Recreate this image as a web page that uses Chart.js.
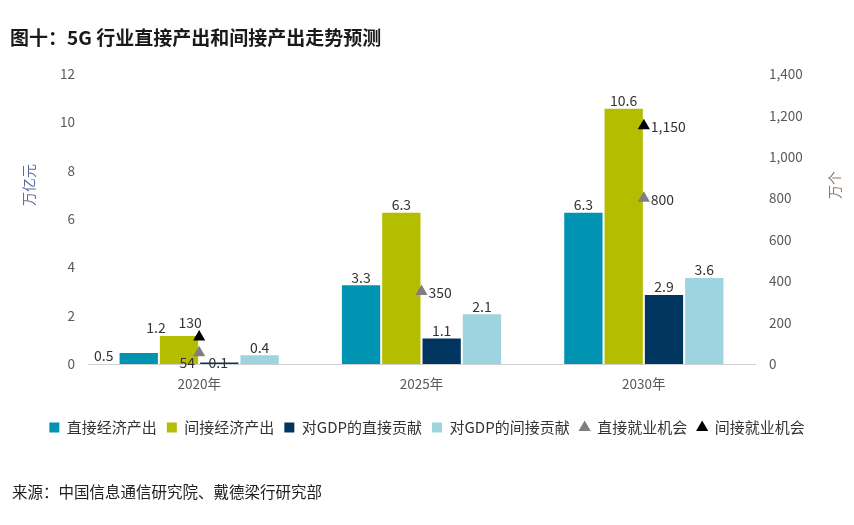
<!DOCTYPE html>
<html>
<head>
<meta charset="utf-8">
<script src="https://cdn.jsdelivr.net/npm/chart.js@4"></script>
<style>
  body { margin: 0; background: #fff; font-family: "Noto Sans CJK SC", sans-serif; }
  #wrap { position: relative; width: 854px; height: 525px; }
  #title { position: absolute; left: 10px; top: 23px; font-size: 19px; font-weight: bold; color: #1a1a1a; }
  #source { position: absolute; left: 12px; top: 480px; font-size: 15.5px; color: #222; }
  canvas { position: absolute; left: 0; top: 0; }
</style>
</head>
<body>
<div id="wrap">
  <canvas id="myChart" width="854" height="525"></canvas>
  <div id="title">图十：5G 行业直接产出和间接产出走势预测</div>
  <div id="source">来源：中国信息通信研究院、戴德梁行研究部</div>
</div>
<script>
const years = ['2020年', '2025年', '2030年'];
// 万亿元
const directOutput = [0.5, 3.3, 6.3];
const indirectOutput = [1.2, 6.3, 10.6];
const gdpDirect = [0.1, 1.1, 2.9];
const gdpIndirect = [0.4, 2.1, 3.6];
// 万个
const directJobs = [54, 350, 800];
const indirectJobs = [130, null, 1150];

const fontFamily = '"Noto Sans CJK SC", sans-serif';

const ctx = document.getElementById('myChart').getContext('2d');

const barDs = (label, data, color, shift) => ({
  type: 'bar',
  label: label,
  data: data,
  backgroundColor: color,
  borderColor: 'rgba(255,255,255,0.7)',
  borderWidth: 1,
  yAxisID: 'y',
  order: 1,
  legendStyle: 'rect',
  labelShift: shift || [],
});

const jobDs = (label, data, color, spots) => ({
  type: 'line',
  label: label,
  data: data,
  showLine: false,
  pointStyle: 'triangle',
  pointRadius: 7,
  pointHoverRadius: 7,
  backgroundColor: color,
  borderColor: color,
  borderWidth: 0,
  yAxisID: 'y1',
  order: 0,
  legendStyle: 'triangle',
  labelSpots: spots,
});

// value labels and the axis titles
const labelPlugin = {
  id: 'labels',
  afterDatasetsDraw(chart) {
    const c = chart.ctx;
    c.save();
    c.font = '14px ' + fontFamily;
    c.fillStyle = '#333';
    chart.data.datasets.forEach((ds, i) => {
      const meta = chart.getDatasetMeta(i);
      meta.data.forEach((el, j) => {
        const v = ds.data[j];
        if (v === null || v === undefined) return;
        const txt = v.toLocaleString('en-US');
        if (ds.type === 'bar') {
          const sh = ds.labelShift[j] || [0, 0];
          c.textAlign = 'center';
          c.textBaseline = 'bottom';
          c.fillText(txt, el.x + sh[0], el.y + sh[1]);
        } else {
          const spot = ds.labelSpots[j];
          if (spot === 'right') {
            c.textAlign = 'left';
            c.textBaseline = 'middle';
            c.fillText(txt, el.x + 7, el.y + 1);
          } else if (spot === 'above') {
            c.textAlign = 'center';
            c.textBaseline = 'bottom';
            c.fillText(txt, el.x - 9, el.y - 7);
          } else {
            c.textAlign = 'center';
            c.textBaseline = 'top';
            c.fillText(txt, el.x - 12, el.y + 3);
          }
        }
      });
    });
    // axis titles, both read bottom to top
    c.font = '14px ' + fontFamily;
    c.textAlign = 'center';
    c.textBaseline = 'middle';
    c.fillStyle = '#5b6d9c';
    c.translate(29, 185);
    c.rotate(-Math.PI / 2);
    c.fillText('万亿元', 0, 0);
    c.setTransform(1, 0, 0, 1, 0, 0);
    c.fillStyle = '#8c7c62';
    c.translate(835, 185);
    c.rotate(-Math.PI / 2);
    c.fillText('万个', 0, 0);
    c.restore();
  }
};

new Chart(ctx, {
  data: {
    labels: years,
    datasets: [
      barDs('直接经济产出', directOutput, '#0093B2', [[-35, 11]]),
      barDs('间接经济产出', indirectOutput, '#B5BD00', [[-23, 0]]),
      barDs('对GDP的直接贡献', gdpDirect, '#00355F', [[-1, 8]]),
      barDs('对GDP的间接贡献', gdpIndirect, '#9DD4DF'),
      jobDs('直接就业机会', directJobs, '#7f7f7f', ['below', 'right', 'right']),
      jobDs('间接就业机会', indirectJobs, '#000000', ['above', 'right', 'right']),
    ]
  },
  options: {
    responsive: false,
    animation: false,
    layout: { padding: { top: 74, bottom: 80, left: 0, right: 0 } },
    datasets: { bar: { barPercentage: 1, categoryPercentage: 0.725 } },
    scales: {
      x: {
        grid: { display: false },
        border: { display: true, color: '#d0d0d0' },
        ticks: { color: '#595959', font: { family: fontFamily, size: 13.5 }, padding: 4 },
        afterFit(s) { s.height = 46; },
      },
      y: {
        position: 'left',
        min: 0, max: 12,
        grid: { display: false, drawTicks: false },
        border: { display: false },
        ticks: { stepSize: 2, color: '#595959', font: { family: fontFamily, size: 13.5 }, padding: 13 },
        afterFit(s) { s.width = 88; },
      },
      y1: {
        position: 'right',
        min: 0, max: 1400,
        grid: { display: false, drawTicks: false },
        border: { display: false },
        ticks: {
          stepSize: 200, color: '#595959', font: { family: fontFamily, size: 13.5 }, padding: 14,
          callback: v => v.toLocaleString('en-US'),
        },
        afterFit(s) { s.width = 99; },
      },
    },
    plugins: {
      tooltip: { enabled: false },
      legend: {
        position: 'bottom',
        labels: {
          color: '#333',
          font: { family: fontFamily, size: 15 },
          usePointStyle: true,
          boxWidth: 10,
          boxHeight: 10,
          padding: 10,
          sort: (a, b) => a.datasetIndex - b.datasetIndex,
          generateLabels(chart) {
            const items = Chart.defaults.plugins.legend.labels.generateLabels(chart);
            items.forEach(it => {
              const ds = chart.data.datasets[it.datasetIndex];
              it.pointStyle = ds.legendStyle;
              it.lineWidth = 0;
            });
            return items;
          }
        }
      }
    }
  },
  plugins: [labelPlugin]
});
</script>
</body>
</html>
